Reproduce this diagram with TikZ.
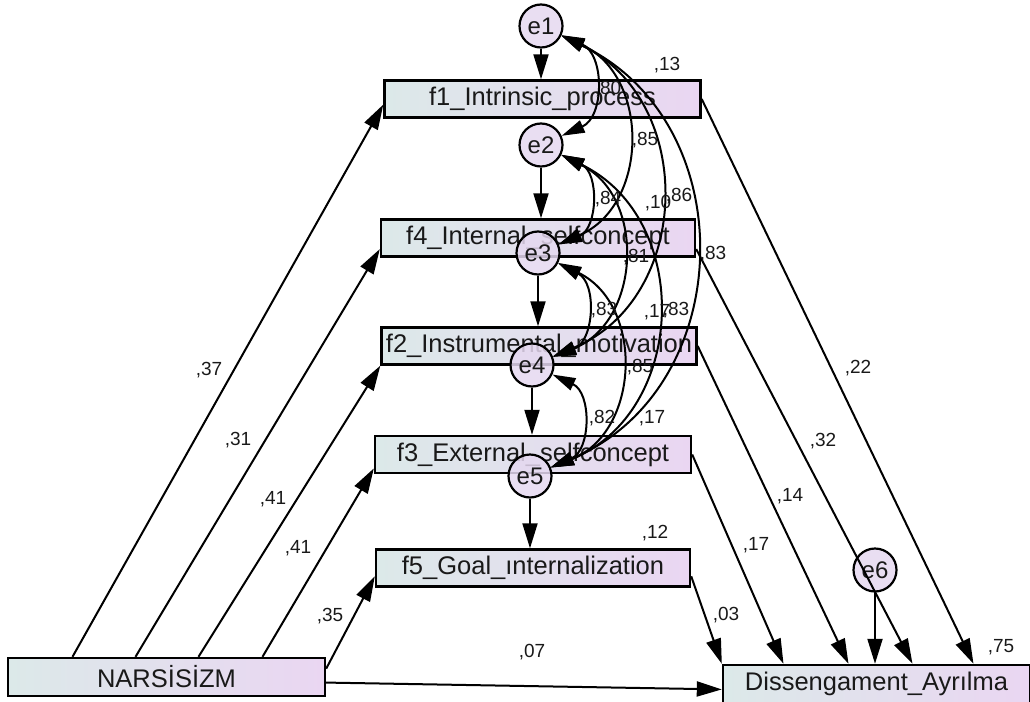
\documentclass[tikz,border=0pt]{standalone}
\usepackage{fontspec}
\setmainfont{Liberation Sans}
\usetikzlibrary{arrows.meta,calc}
\definecolor{boxL}{RGB}{220,233,233}
\definecolor{boxR}{RGB}{234,214,242}
\definecolor{circF}{RGB}{229,216,240}
\definecolor{txt}{RGB}{25,25,25}
\begin{document}
\begin{tikzpicture}[x=1pt,y=-1pt,
  var/.style={draw=black, line width=2.4pt, left color=boxL, right color=boxR,
    minimum width=#1, minimum height=37pt, inner sep=0pt,
    font=\fontsize{25.5}{30}\selectfont, text=txt},
  err/.style={circle, draw=black, line width=2.2pt, fill=circF, fill opacity=0.85,
    text opacity=1, minimum size=43pt, inner sep=0pt,
    font=\fontsize{24}{28}\selectfont, text=txt},
  reg/.style={line width=2pt, -{Triangle[length=25pt,width=15pt]}},
  cov/.style={line width=2pt, {Triangle[length=23pt,width=13pt]}-{Triangle[length=23pt,width=13pt]}},
  lab/.style={font=\fontsize{19}{22}\selectfont, text=txt, inner sep=0pt}]
\useasboundingbox (0,0) rectangle (1030,701);
% boxes
\node[var=316pt] (f1) at (542.5,99) {f1\_Intrinsic\_process};
\node[var=314pt] (f4) at (538,238) {f4\_Internal\_selfconcept};
\node[var=315pt] (f2) at (539,346) {f2\_Instrumental\_motivation};
\node[var=316pt] (f3) at (533,454.5) {f3\_External\_selfconcept};
\node[var=314pt] (f5) at (533,568) {f5\_Goal\_ınternalization};
\node[var=317pt, minimum height=38pt] (N) at (166.5,677) {NARSİSİZM};
\node[var=307pt, minimum height=38pt] (D) at (876.5,684) {Dissengament\_Ayrılma};
% error circles
\node[err] (e1) at (541,26) {e1};
\node[err] (e2) at (541,145) {e2};
\node[err] (e3) at (538,253) {e3};
\node[err] (e4) at (532,365) {e4};
\node[err] (e5) at (530,476) {e5};
\node[err] (e6) at (875,570) {e6};
% error arrows
\draw[reg] (e1) -- (e1 |- f1.north);
\draw[reg] (e2) -- (e2 |- f4.north);
\draw[reg] (e3) -- (e3 |- f2.north);
\draw[reg] (e4) -- (e4 |- f3.north);
\draw[reg] (e5) -- (e5 |- f5.north);
\draw[reg] (e6) -- (e6 |- D.north);
% from NARSISIZM
\draw[reg] ($(N.north)+(-94,0)$) -- (f1.182);
\draw[reg] ($(N.north)+(-31,0)$) -- (f4.184);
\draw[reg] ($(N.north)+(32,0)$) -- (f2.south west);
\draw[reg] ($(N.north)+(96,0)$) -- (f3.185);
\draw[reg] (N.3) -- (f5.183);
\draw[reg] (N.-2) -- (D.182);
% to Dissengament
\draw[reg] (f5.-3) -- (D.north west);
\draw[reg] (f3.east) -- ($(D.north)+(-93,0)$);
\draw[reg] (f2.east) -- ($(D.north)+(-28,0)$);
\draw[reg] (f4.-4) -- ($(D.north)+(36,0)$);
\draw[reg] (f1.east) -- ($(D.north)+(97,0)$);
% covariances
\foreach \a/\b in {e1/e2,e1/e3,e1/e4,e1/e5,e2/e3,e2/e4,e2/e5,e3/e4,e3/e5,e4/e5}
  \draw[cov] (\a) to[bend left=66, looseness=1.2] (\b);
% labels
\node[lab] (l13) at (667,65) {,13};
\node[lab] (l80) at (608,89) {,80};
\node[lab] (l85a) at (645,140) {,85};
\node[lab] (l84) at (608,199) {,84};
\node[lab] (l10) at (658,203) {,10};
\node[lab] (l86) at (679,196) {,86};
\node[lab] (l83a) at (713,254) {,83};
\node[lab] (l81) at (636,257) {,81};
\node[lab] (l83b) at (604,310) {,83};
\node[lab] (l17a) at (657,312) {,17};
\node[lab] (l83c) at (676,310) {,83};
\node[lab] (l85b) at (640,367) {,85};
\node[lab] (l82) at (602,418) {,82};
\node[lab] (l17b) at (652,418) {,17};
\node[lab] (l12) at (655,533) {,12};
\node[lab] (l17c) at (756,545) {,17};
\node[lab] (l14) at (790,496) {,14};
\node[lab] (l03) at (726,615) {,03};
\node[lab] (l75) at (1001,647) {,75};
\node[lab] (l32) at (823,441) {,32};
\node[lab] (l22) at (858,368) {,22};
\node[lab] (l37) at (209,370) {,37};
\node[lab] (l31) at (238,440) {,31};
\node[lab] (l41a) at (273,499) {,41};
\node[lab] (l41b) at (298,548) {,41};
\node[lab] (l35) at (330,616) {,35};
\node[lab] (l07) at (532,652) {,07};
\end{tikzpicture}
\end{document}
